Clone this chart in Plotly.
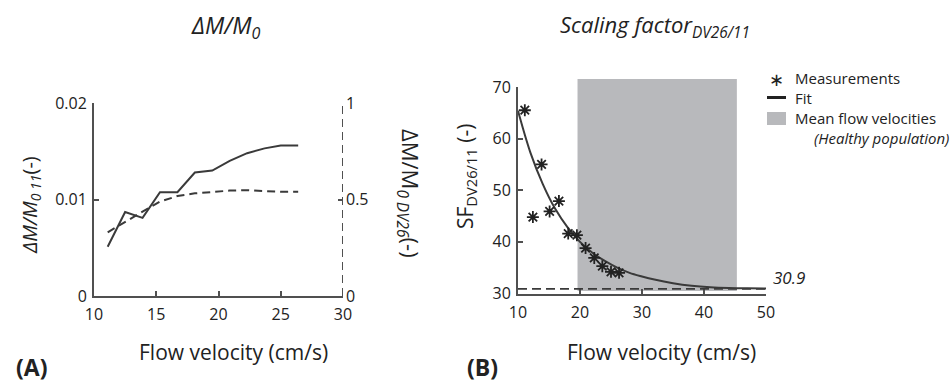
import plotly.graph_objects as go

# ---------------- data ----------------
velocity = [11.1, 12.5, 13.9, 15.3, 16.7, 18.1, 19.5, 20.9, 22.3, 23.7, 25.0, 26.4]
dm_m0_11 = [0.0051, 0.0087, 0.0081, 0.01075, 0.01075, 0.0128, 0.0130, 0.0140, 0.0148, 0.0153, 0.0156, 0.0156]
dm_m0_dv26 = [0.330, 0.385, 0.437, 0.489, 0.518, 0.532, 0.540, 0.546, 0.548, 0.544, 0.540, 0.540]

sf_velocity = [11.1, 12.4, 13.8, 15.1, 16.6, 18.1, 19.5, 20.9, 22.3, 23.6, 25.0, 26.3]
sf_measured = [65.5, 44.8, 55.0, 45.9, 47.9, 41.6, 41.3, 38.8, 36.9, 35.3, 34.2, 34.0]

fit_velocity = [10, 12, 14, 16, 18, 20, 22, 24, 26, 28, 30, 32, 35, 38, 41, 44, 47, 50]
fit_sf = [65.4, 57.3, 51.2, 46.4, 42.8, 40.0, 37.9, 36.3, 35.0, 34.0, 33.3, 32.7, 32.0, 31.5, 31.2, 31.05, 31.0, 30.95]

asymptote = 30.9
mean_flow_range = [19.6, 45.3]

left_xticks = [10, 15, 20, 25, 30]
left_yticks = [0, 0.01, 0.02]
left_y2ticks = [0, 0.5, 1]
right_xticks = [10, 20, 30, 40, 50]
right_yticks = [30, 40, 50, 60, 70]

# ---------------- style ----------------
W, H = 951, 387
FONT = "Open Sans"
LINE = "#3a3a3a"
AXC = "#505050"
TXT = "#222222"
GRAY = "#b8b9bc"


def px(x):
    return x / W


def py(y):
    return 1 - y / H


fig = go.Figure()

# left panel
fig.add_trace(go.Scatter(x=velocity, y=dm_m0_11, mode="lines", xaxis="x", yaxis="y",
                         line=dict(color=LINE, width=2), showlegend=False))
fig.add_trace(go.Scatter(x=velocity, y=dm_m0_dv26, mode="lines", xaxis="x", yaxis="y2",
                         line=dict(color=LINE, width=2, dash="8px,5px"), showlegend=False))

# right panel
fig.add_trace(go.Scatter(x=fit_velocity, y=fit_sf, mode="lines", xaxis="x3", yaxis="y3",
                         line=dict(color=LINE, width=2, shape="spline"), showlegend=False))
fig.add_trace(go.Scatter(x=sf_velocity, y=sf_measured, mode="markers", xaxis="x3", yaxis="y3",
                         marker=dict(symbol="asterisk-open", size=10, color="#222",
                                     line=dict(color="#222", width=1.8)),
                         showlegend=False))

ldom_x = [px(94), px(343)]
ldom_y = [py(296), py(103)]
rdom_x = [px(518), px(766)]
rdom_y = [py(293.5), py(87)]

axis_common = dict(showgrid=False, zeroline=False, ticks="inside", ticklen=5, tickwidth=1.5,
                   tickcolor=AXC, linecolor=AXC, linewidth=2, automargin=False,
                   tickfont=dict(family=FONT, size=16, color=TXT))

fig.update_layout(
    template="none",
    width=W, height=H, margin=dict(l=0, r=0, t=0, b=0),
    paper_bgcolor="white", plot_bgcolor="rgba(0,0,0,0)",
    font=dict(family=FONT, color=TXT),
    xaxis=dict(domain=ldom_x, range=[10, 30], tickvals=left_xticks, showline=True,
               anchor="y", ticklabelstandoff=3, **axis_common),
    yaxis=dict(domain=ldom_y, range=[0, 0.02], tickvals=left_yticks, ticktext=["0", "0.01", "0.02"],
               showline=True, anchor="x", ticklabelstandoff=2, **axis_common),
    yaxis2=dict(overlaying="y", side="right", range=[0, 1], tickvals=left_y2ticks,
                ticktext=["0", "0.5", "1"], showline=False, anchor="x", ticklabelstandoff=2,
                **axis_common),
    xaxis3=dict(domain=rdom_x, range=[10, 50], tickvals=right_xticks, showline=True,
                anchor="y3", ticklabelstandoff=3, **axis_common),
    yaxis3=dict(domain=rdom_y, range=[30, 70], tickvals=right_yticks, showline=True,
                anchor="x3", ticklabelstandoff=2, **axis_common),
)

shapes = []
# dashed right axis of the left panel
shapes.append(dict(type="line", xref="x", yref="y2", x0=30, x1=30, y0=0, y1=1,
                   line=dict(color=AXC, width=2, dash="8px,5px"), layer="above"))
# mean flow velocities band
shapes.append(dict(type="rect", xref="x3", yref="paper", x0=mean_flow_range[0], x1=mean_flow_range[1],
                   y0=py(291), y1=py(79), fillcolor=GRAY, line=dict(width=0), layer="below"))
# asymptote
shapes.append(dict(type="line", xref="x3 domain", yref="y3", x0=0, x1=1, y0=asymptote, y1=asymptote,
                   line=dict(color=LINE, width=1.8, dash="9px,5px"), layer="above"))
# legend marks
shapes.append(dict(type="line", xref="paper", yref="paper", x0=px(767), x1=px(786), y0=py(97.5), y1=py(97.5),
                   line=dict(color="#222", width=3)))
shapes.append(dict(type="rect", xref="paper", yref="paper", x0=px(767), x1=px(786), y0=py(125), y1=py(112),
                   fillcolor=GRAY, line=dict(width=0)))
fig.update_layout(shapes=shapes)

ann = []


def text(x, y, s, size=16, angle=0, xanchor="center", color=TXT):
    ann.append(dict(x=px(x), y=py(y), xref="paper", yref="paper", text=s, showarrow=False,
                    font=dict(family=FONT, size=size, color=color), textangle=angle,
                    xanchor=xanchor, yanchor="middle"))


text(225, 26, "<i>ΔM/M<sub>0</sub></i>", size=23)
text(655, 26, "<i>Scaling factor<sub>DV26/11</sub></i>", size=22)
text(233, 352, "Flow velocity (cm/s)", size=21)
text(661, 352, "Flow velocity (cm/s)", size=21)
text(31, 367, "<b>(A)</b>", size=23)
text(483, 367, "<b>(B)</b>", size=23)
text(30, 205, "<i>ΔM/M<sub>0 11</sub></i>(-)", size=20, angle=-90)
text(409, 193, "ΔM/M<sub><i>0 DV26</i></sub>(-)", size=22, angle=90)
text(466, 177, "SF<sub>DV26/11</sub> (-)", size=21, angle=-90)
text(789, 277, "<i>30.9</i>", size=17)
# legend text
text(776, 79, "∗", size=18)
text(793, 78, "Measurements", size=15, xanchor="left")
text(793, 98, "Fit", size=15, xanchor="left")
text(793, 118, "Mean flow velocities", size=15, xanchor="left")
text(812, 138, "<i>(Healthy population)</i>", size=15, xanchor="left")

fig.update_layout(annotations=ann)

fig.write_html("out.html", config={"displayModeBar": False},
               post_script="document.body.style.margin='0';document.body.style.overflow='hidden';")
